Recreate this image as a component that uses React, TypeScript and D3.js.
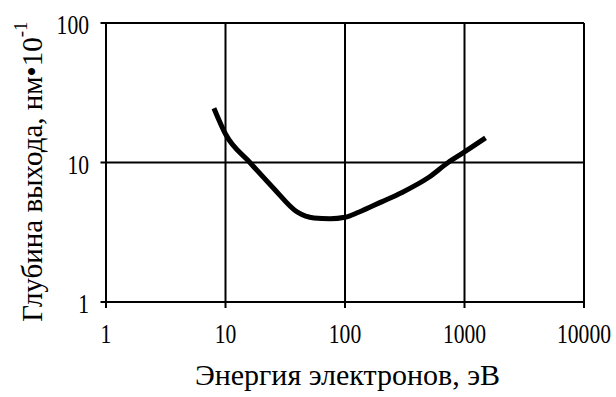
import React from "react";
import * as d3 from "d3";

const energy = [8, 10, 16, 25, 40, 55, 75, 100, 130, 200, 300, 500, 730, 1000, 1500];
const depth = [24.5, 16, 10, 6.6, 4.4, 4.0, 3.95, 4.05, 4.4, 5.2, 6.1, 7.8, 10, 11.9, 15];
const xTicks = [1, 10, 100, 1000, 10000];
const yTicks = [1, 10, 100];
const xTitle = "Энергия электронов, эВ";
const yTitle = "Глубина выхода, нм•10";
const ySup = "-1";

const W = 616;
const H = 397;
const M = { left: 106, right: 584, top: 23, bottom: 302 };
const FONT = "Liberation Serif";

export default function App() {
  const x = d3.scaleLog().domain([1, 10000]).range([M.left, M.right]);
  const y = d3.scaleLog().domain([1, 100]).range([M.bottom, M.top]);
  const pts = energy.map((e, i) => [x(e), y(depth[i])] as [number, number]);
  const path = d3.line().curve(d3.curveMonotoneX)(pts) || "";
  const ts = { fontFamily: FONT };

  return (
    <svg width={W} height={H} style={{ position: "absolute", left: 0, top: 0, background: "#fff" }}>
      {/* grid */}
      {xTicks.map((t) => (
        <line key={"gx" + t} x1={x(t)} x2={x(t)} y1={M.top} y2={M.bottom + 6} stroke="#000" strokeWidth={2} />
      ))}
      {yTicks.map((t) => (
        <line key={"gy" + t} x1={M.left - 5.5} x2={M.right} y1={y(t)} y2={y(t)} stroke="#000" strokeWidth={2} />
      ))}
      {/* curve */}
      <path d={path} fill="none" stroke="#000" strokeWidth={5} strokeLinejoin="round" />
      {/* x tick labels */}
      {xTicks.map((t) => (
        <g key={"xl" + t} transform={`translate(${x(t)},343) scale(0.8,1)`}>
          <text x={0} y={0} fontSize={27} textAnchor="middle" style={ts}>
            {String(t)}
          </text>
        </g>
      ))}
      {/* y tick labels */}
      {yTicks.map((t) => (
        <g key={"yl" + t} transform={`translate(89,${y(t) + 11}) scale(0.8,1)`}>
          <text x={0} y={0} fontSize={27} textAnchor="end" style={ts}>
            {String(t)}
          </text>
        </g>
      ))}
      {/* x title */}
      <text x={347.5} y={385} fontSize={30} textAnchor="middle" style={ts}>
        {xTitle}
      </text>
      {/* y title */}
      <g transform="translate(41.7,321.7) rotate(-90)">
        <text x={0} y={0} fontSize={29} style={ts}>
          {yTitle}
          <tspan dy={-15} fontSize={19}>
            {ySup}
          </tspan>
        </text>
      </g>
    </svg>
  );
}
